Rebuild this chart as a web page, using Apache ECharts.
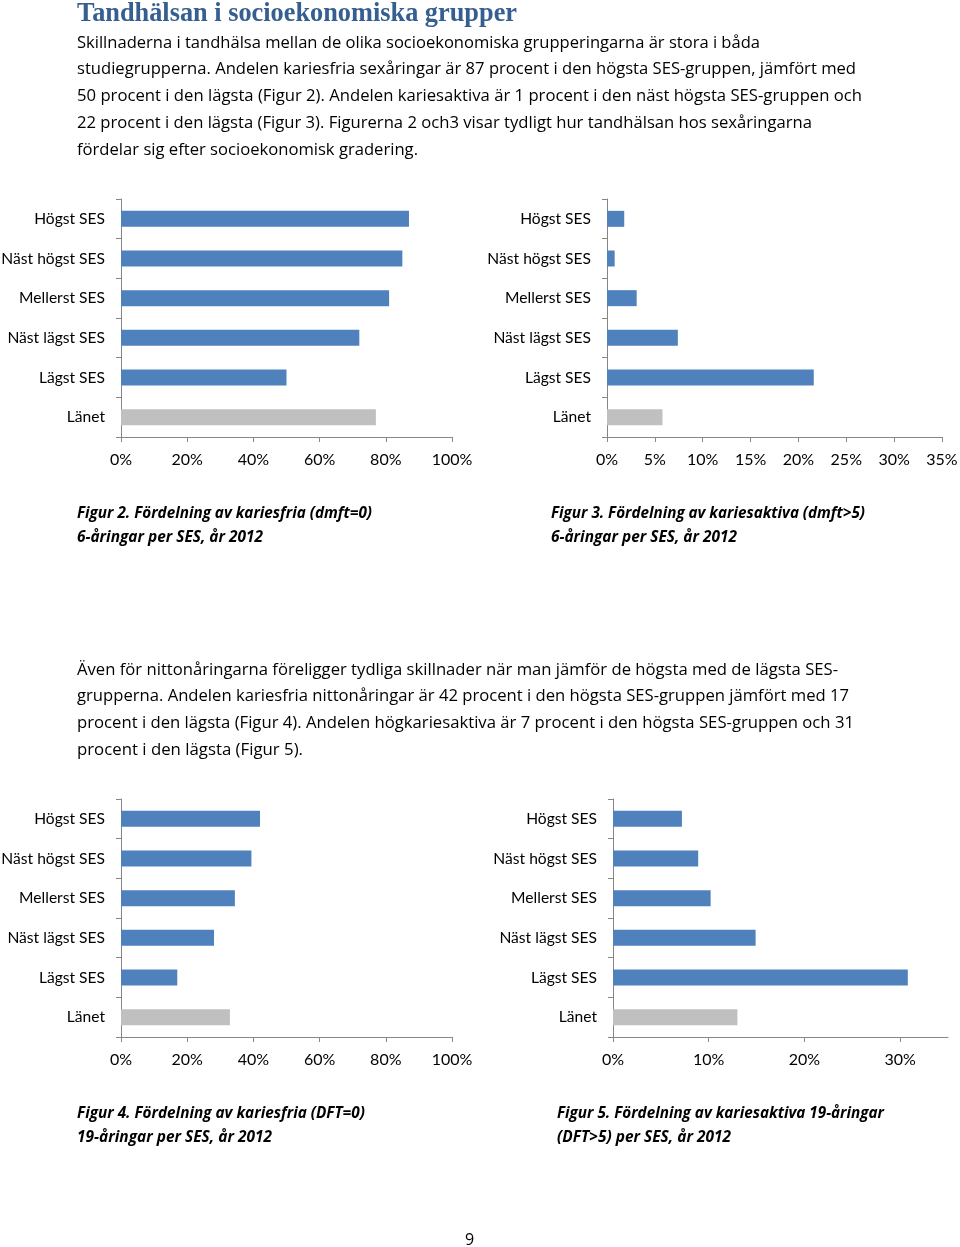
<!DOCTYPE html>
<html><head><meta charset="utf-8">
<script src="https://cdn.jsdelivr.net/npm/echarts@6/dist/echarts.min.js"></script>
<style>
html,body{margin:0;padding:0;background:#fff;}
#page{position:relative;width:960px;height:1247px;overflow:hidden;background:#fff;}
#chart{position:absolute;left:0;top:0;width:960px;height:1247px;}
.t{position:absolute;white-space:nowrap;transform-origin:0 50%;line-height:1;color:#000;}
.body{font-family:'Open Sans';font-size:17px;}
.cap{font-family:'Open Sans';font-size:16px;font-weight:bold;font-style:italic;}
.h1{font-family:'Liberation Serif';font-weight:bold;font-size:28px;color:#365F91;}
.pg{font-family:'Open Sans';font-size:16px;}
</style></head>
<body><div id="page"><div id="chart"></div></div>
<script>
// ---- Data ----
const categories = ['Högst SES', 'Näst högst SES', 'Mellerst SES', 'Näst lägst SES', 'Lägst SES', 'Länet'];
const fig2Values = [87, 85, 81, 72, 50, 77];        // kariesfria 6-åringar (%)
const fig3Values = [1.8, 0.8, 3.1, 7.4, 21.6, 5.8]; // kariesaktiva 6-åringar (%)
const fig4Values = [42, 39.4, 34.4, 28.1, 17, 32.9]; // kariesfria 19-åringar (%)
const fig5Values = [7.2, 8.9, 10.2, 14.9, 30.8, 13.0]; // kariesaktiva 19-åringar (%)
const ticksFig5 = [0, 10, 20, 30];

const titleText = 'Tandhälsan i socioekonomiska grupper';
const para1 = [
  'Skillnaderna i tandhälsa mellan de olika socioekonomiska grupperingarna är stora i båda',
  'studiegrupperna. Andelen kariesfria sexåringar är 87 procent i den högsta SES-gruppen, jämfört med',
  '50 procent i den lägsta (Figur 2). Andelen kariesaktiva är 1 procent i den näst högsta SES-gruppen och',
  '22 procent i den lägsta (Figur 3). Figurerna 2 och3 visar tydligt hur tandhälsan hos sexåringarna',
  'fördelar sig efter socioekonomisk gradering.'
];
const para2 = [
  'Även för nittonåringarna föreligger tydliga skillnader när man jämför de högsta med de lägsta SES-',
  'grupperna. Andelen kariesfria nittonåringar är 42 procent i den högsta SES-gruppen jämfört med 17',
  'procent i den lägsta (Figur 4). Andelen högkariesaktiva är 7 procent i den högsta SES-gruppen och 31',
  'procent i den lägsta (Figur 5).'
];
const captions = [
  ['Figur 2. Fördelning av kariesfria (dmft=0)', '6-åringar per SES, år 2012'],
  ['Figur 3. Fördelning av kariesaktiva (dmft>5)', '6-åringar per SES, år 2012'],
  ['Figur 4. Fördelning av kariesfria (DFT=0)', '19-åringar per SES, år 2012'],
  ['Figur 5. Fördelning av kariesaktiva 19-åringar', '(DFT>5) per SES, år 2012']
];

// ---- Text layout ----
const page = document.getElementById('page');
function addLine(text, cls, x, cy, right) {
  const d = document.createElement('div');
  d.className = 't ' + cls;
  d.textContent = text;
  d.style.left = x + 'px';
  d.style.top = cy + 'px';
  page.appendChild(d);
  const w = d.getBoundingClientRect().width;
  const h = d.getBoundingClientRect().height;
  d.style.top = (cy - h / 2) + 'px';
  if (right && w > 0) d.style.transform = 'scaleX(' + ((right - x) / w) + ')';
}
addLine(titleText, 'h1', 77, 12, 517);
const p1Right = [760, 856, 862, 812, 418];
para1.forEach((s, i) => addLine(s, 'body', 77, 41 + i * 26.8, p1Right[i]));
const p2Right = [838, 849, 854, 303];
para2.forEach((s, i) => addLine(s, 'body', 77, 668 + i * 26.8, p2Right[i]));
const capPos = [[77, 512, [372, 263]], [551, 512, [865, 737]], [77, 1112, [365, 272]], [557, 1112, [884, 731]]];
captions.forEach((c, i) => {
  const [x, y, r] = capPos[i];
  addLine(c[0], 'cap', x, y, r[0]);
  addLine(c[1], 'cap', x, y + 24, r[1]);
});
addLine('9', 'pg', 465, 1239, null);

// ---- Charts ----
const BLUE = '#4F81BD', GREY = '#C0C0C0', AXIS = '#868686';
const FONT = 'Lato';
const grids = [
  {left: 121, top: 199, width: 331, height: 238, outerBoundsMode: 'none', containLabel: false},
  {left: 607, top: 199, width: 335, height: 238, outerBoundsMode: 'none', containLabel: false},
  {left: 121, top: 799, width: 331, height: 238, outerBoundsMode: 'none', containLabel: false},
  {left: 613, top: 799, width: 335, height: 238, outerBoundsMode: 'none', containLabel: false}
];
function xAxis(i, max, interval, custom) {
  const a = {
    type: 'value', gridIndex: i, min: 0, max: max, interval: interval,
    axisLine: {show: true, lineStyle: {color: AXIS, width: 1}},
    axisTick: {show: true, length: 5, lineStyle: {color: AXIS}},
    axisLabel: {formatter: '{value}%', color: '#000', fontSize: 16, fontFamily: FONT, margin: 15},
    splitLine: {show: false}
  };
  if (custom) {
    a.axisLabel.customValues = custom;
    a.axisTick.customValues = custom;
    a.axisLabel.formatter = v => (custom.indexOf(v) >= 0 ? v + '%' : '');
  }
  return a;
}
function yAxis(i) {
  return {
    type: 'category', gridIndex: i, data: categories, inverse: true,
    axisLine: {show: true, lineStyle: {color: AXIS, width: 1}},
    axisTick: {show: true, length: 5, lineStyle: {color: AXIS}},
    axisLabel: {color: '#000', fontSize: 15.6, fontFamily: FONT, margin: 16}
  };
}
function series(i, values) {
  return {
    type: 'bar', xAxisIndex: i, yAxisIndex: i, data: values, barWidth: 16,
    itemStyle: {color: p => (p.dataIndex === categories.length - 1 ? GREY : BLUE)},
    silent: true, animation: false
  };
}
const chart = echarts.init(document.getElementById('chart'), null, {renderer: 'canvas'});
chart.setOption({
  animation: false,
  grid: grids,
  xAxis: [xAxis(0, 100, 20), xAxis(1, 35, 5), xAxis(2, 100, 20), xAxis(3, 35, 10, ticksFig5)],
  yAxis: [yAxis(0), yAxis(1), yAxis(2), yAxis(3)],
  series: [series(0, fig2Values), series(1, fig3Values), series(2, fig4Values), series(3, fig5Values)]
});
</script></body></html>
